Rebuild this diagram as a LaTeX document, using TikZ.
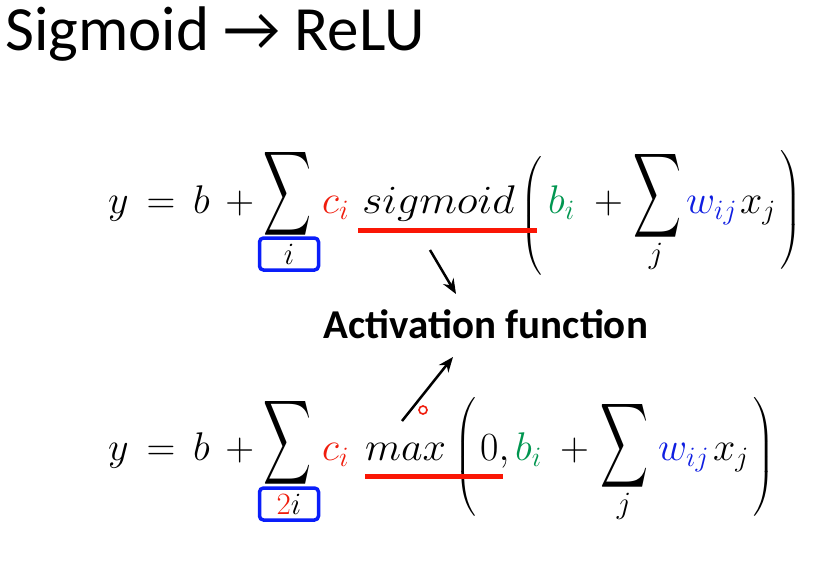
\RequirePackage{fix-cm}
\documentclass[tikz,border=0pt]{standalone}
\usepackage{exscale}
\usepackage{fontspec}
\setsansfont{Carlito}
\usetikzlibrary{arrows.meta}
\definecolor{ciRed}{RGB}{240,28,12}
\definecolor{lineRed}{RGB}{250,22,5}
\definecolor{biGreen}{RGB}{0,150,80}
\definecolor{wBlue}{RGB}{15,30,225}
\definecolor{boxBlue}{RGB}{10,30,250}
\newcommand\mathsize{\fontsize{40}{44}\selectfont}
\newcommand\bigsum{\resizebox{48pt}{71pt}{$\displaystyle\sum$}}
\newcommand\tallL[1]{$\left(\vcenter{\hrule height #1 width 0pt}\right.$}
\newcommand\tallR[1]{$\left.\vcenter{\hrule height #1 width 0pt}\right)$}
\begin{document}
\begin{tikzpicture}[x=1pt,y=-1pt,
    eqpart/.style={anchor=base west,inner sep=0pt,font=\mathsize},
    sumpart/.style={inner sep=0pt,font=\mathsize},
    parpart/.style={inner sep=0pt,font=\mathsize},
    idx/.style={inner sep=0pt,font=\fontsize{31}{34}\selectfont},
    subbox/.style={idx,draw=boxBlue,line width=3.5pt,rounded corners=4pt,
        minimum width=59pt,minimum height=32pt},
    uline/.style={draw=lineRed,line width=5pt},
    pointer/.style={-{Stealth[length=15pt,width=12pt]},line width=2.5pt},
    cursor/.style={circle,draw=ciRed,line width=1.6pt,inner sep=0pt,minimum size=8pt},
  ]
  \fill[white] (0,0) rectangle (819,563);
  \useasboundingbox (0,0) rectangle (819,563);
  % title
  \node[anchor=base west,inner sep=0pt,font=\sffamily\fontsize{63}{70}\selectfont]
    (title) at (5,50) {Sigmoid → ReLU};
  % sigmoid version
  \node[eqpart] (lhsA) at (108,213) {$y\,=\,b\,+{}$};
  \node[sumpart] (sumA) at (287,194) {\bigsum};
  \node[subbox] (idxA) at (289,254) {$i$};
  \node[eqpart,text=ciRed] (ciA) at (322,213) {$c_i$};
  \node[eqpart] (fA) at (362,213) {\scalebox{1.1}[1]{$sigmoid$}};
  \node[parpart] (lpA) at (532,216) {\tallL{112pt}};
  \node[eqpart,text=biGreen] (biA) at (548,213) {$b_i$};
  \node[eqpart] (plA) at (594,213) {$+$};
  \node[sumpart] (sumjA) at (657,196) {\bigsum};
  \node[idx] (jA) at (656,256) {$j$};
  \node[eqpart,text=wBlue] (wA) at (686,213) {$w_{ij}$};
  \node[eqpart] (xA) at (740,213) {$x_j$};
  \node[parpart] (rpA) at (791,210) {\tallR{120pt}};
  \draw[uline] (fA.base west) ++(-4,17) -- ++(179,0);
  % activation label
  \node[anchor=base,font=\sffamily\bfseries\fontsize{41}{48}\selectfont]
    (act) at (486,338) {Activation function};
  \coordinate (tailA) at (430,250);
  \coordinate (headA) at (456,294);
  \coordinate (tailB) at (402,421);
  \coordinate (headB) at (453,357);
  \draw[pointer] (tailA) -- (headA);
  \draw[pointer] (tailB) -- (headB);
  \node[cursor] (dot) at (423,410) {};
  % relu version
  \node[eqpart] (lhsB) at (108,460) {$y\,=\,b\,+{}$};
  \node[sumpart] (sumB) at (287,443) {\bigsum};
  \node[subbox] (idxB) at (289,504) {$\textcolor{ciRed}{2}i$};
  \node[eqpart,text=ciRed] (ciB) at (322,460) {$c_i$};
  \node[eqpart] (fB) at (365,460) {\scalebox{1.05}[1]{$max$}};
  \node[parpart] (lpB) at (466,457) {\tallL{120pt}};
  \node[eqpart] (zB) at (480,460) {$0,$};
  \node[eqpart,text=biGreen] (biB) at (515,460) {$b_i$};
  \node[eqpart] (plB) at (560,460) {$+$};
  \node[sumpart] (sumjB) at (624,446) {\bigsum};
  \node[idx] (jB) at (624,506) {$j$};
  \node[eqpart,text=wBlue] (wB) at (658,460) {$w_{ij}$};
  \node[eqpart] (xB) at (713,460) {$x_j$};
  \node[parpart] (rpB) at (764,457) {\tallR{120pt}};
  \draw[uline] (fB.base west) ++(0,16) -- ++(138,0);
\end{tikzpicture}
\end{document}
